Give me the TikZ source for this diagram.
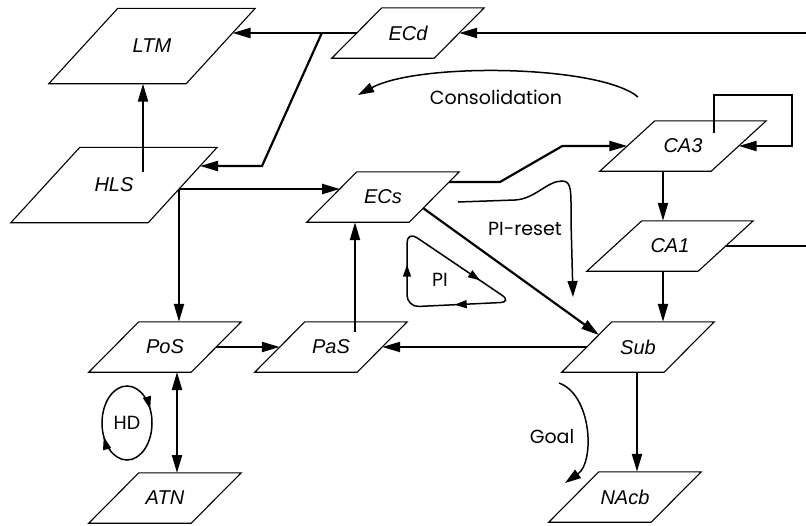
\documentclass[tikz,border=0pt]{standalone}
\usepackage{fontspec}
\setmainfont{Liberation Sans}
\newfontfamily\lblfont{Poppins}
\usetikzlibrary{arrows.meta,calc,decorations.markings}
\tikzset{
  area/.style={rectangle, inner sep=0pt, minimum width=102pt, minimum height=50pt,
    font=\fontsize{20}{22}\selectfont\itshape,
    append after command={\pgfextra{\draw[line width=1.1pt]
      ([xshift=-0.5*#1pt]\tikzlastnode.south west) -- ([xshift=-0.5*#1pt]\tikzlastnode.south east)
      -- ([xshift=0.5*#1pt]\tikzlastnode.north east) -- ([xshift=0.5*#1pt]\tikzlastnode.north west) -- cycle;}}},
  area/.default=50,
  bigarea/.style={area=69, minimum width=137pt, minimum height=75pt},
  caarea/.style={area=55, minimum width=111pt},
  conn/.style={line width=2.2pt, -{Triangle[length=18pt,width=10pt]}},
  both/.style={line width=2.2pt, {Triangle[length=18pt,width=10pt]}-{Triangle[length=18pt,width=10pt]}},
  link/.style={line width=2.2pt},
  flow/.style={line width=1.5pt, -{Triangle[length=16pt,width=10pt]}},
  cyc/.style={line width=1.5pt, postaction=decorate},
  lbl/.style={font=\fontsize{19}{21}\lblfont, inner sep=0pt},
}

\begin{document}
\begin{tikzpicture}[x=1pt,y=-1pt]
 \useasboundingbox (0,0) rectangle (806,525);
 % areas
 \node[bigarea] (LTM) at (152,46) {LTM};
 \node[bigarea] (HLS) at (114,185) {HLS};
 \node[area] (ECd) at (408,33) {ECd};
 \node[area] (ECs) at (383,197) {ECs};
 \node[caarea] (CA3) at (683,146) {CA3};
 \node[caarea] (CA1) at (670,246) {CA1};
 \node[area] (PoS) at (165,347) {PoS};
 \node[area] (PaS) at (331,347) {PaS};
 \node[area] (ATN) at (165,498) {ATN};
 \node[area] (Sub) at (638,347) {Sub};
 \node[area] (NAcb) at (625,497) {NAcb};
 \coordinate (ECdin) at (806,33);
 \coordinate (CA1out) at (806,246);
 % cortical links
 \draw[conn] (ECdin) -- (ECd.east);
 \draw[conn] (ECd.west) -- ($(LTM)+(80.5,-13)$);
 \draw[conn] ($(ECd.west)+(-35,0)$) -- ($(HLS)+(148,-19)$) -- ($(HLS)+(86,-19)$);
 \draw[conn] ($(HLS)+(29,-13)$) coordinate (hu) -- (hu |- LTM.south);
 \draw[conn] ($(HLS)+(65,4)$) coordinate (hr) -- ($(ECs)+(-43,-8)$);
 \draw[conn] (hr) -- (hr |- PoS.north);
 \draw[conn] ($(PaS)+(24,-15)$) coordinate (pu) -- (pu |- ECs.south);
 \draw[conn] (PoS.east) -- (PaS.west);
 \draw[both] ($(PoS)+(12,25)$) -- ($(ATN)+(12,-25)$);
 % hippocampal links
 \draw[conn] (Sub.west) -- (PaS.east);
 \draw[conn] ($(ECs)+(40,11)$) -- ($(Sub)+(-39,-12)$);
 \draw[conn] ($(ECs)+(66,-15)$) -- ++(51,0) -- ($(CA3.west)+(-65,0)$) -- (CA3.west);
 \draw[conn] ($(CA3)+(31,-13)$) -- ++(0,-38) -| ($(CA3.east)+(53,0)$) -- (CA3.east);
 \draw[conn] ($(CA3)+(-20,25)$) coordinate (cd) -- (cd |- CA1.north);
 \draw[link] (CA1.east) -- (CA1out);
 \draw[conn] ($(CA1)+(-7,25)$) coordinate (ce) -- (ce |- Sub.north);
 \draw[conn] ($(Sub)+(-1,25)$) coordinate (sd) -- (sd |- NAcb.north);
 % consolidation
 \coordinate (consA) at (638,97);
 \coordinate (consB) at (358,95);
 \draw[flow] (consA) .. controls (600,65) and (420,62) .. (consB);
 \node[lbl] (cons) at (496,97) {Consolidation};
 % PI reset
 \coordinate (resA) at (458,202);
 \coordinate (resB) at (573,297);
 \draw[flow] (resA) -- (515,200) .. controls (535,199) and (547,181) .. (562,181)
   .. controls (572,181) and (571,191) .. (571,221) -- (resB);
 \node[lbl] (reset) at (525,229) {PI-reset};
 % PI loop
 \draw[cyc, rounded corners=12pt, decoration={markings,
   mark=at position 0.27 with {\arrow{Triangle[length=12pt,width=8pt]}},
   mark=at position 0.57 with {\arrow{Triangle[length=12pt,width=8pt]}},
   mark=at position 0.87 with {\arrow{Triangle[length=12pt,width=8pt]}}}]
   (407,231) -- (512,302) -- (407,307) -- cycle;
 \node[lbl] (PI) at (440,280) {PI};
 % HD loop
 \node[lbl] (HD) at (127,423) {HD};
 \draw[cyc, decoration={markings,
   mark=at position 0.43 with {\arrow{Triangle[length=13pt,width=8pt]}},
   mark=at position 0.93 with {\arrow{Triangle[length=13pt,width=8pt]}}}]
   (HD.center) ellipse [x radius=25, y radius=37];
 % goal
 \coordinate (goalA) at (559,383);
 \coordinate (goalB) at (565,483);
 \draw[flow] (goalA) .. controls (592,395) and (595,462) .. (goalB);
 \node[lbl] (goal) at (552,437) {Goal};
\end{tikzpicture}
\end{document}
